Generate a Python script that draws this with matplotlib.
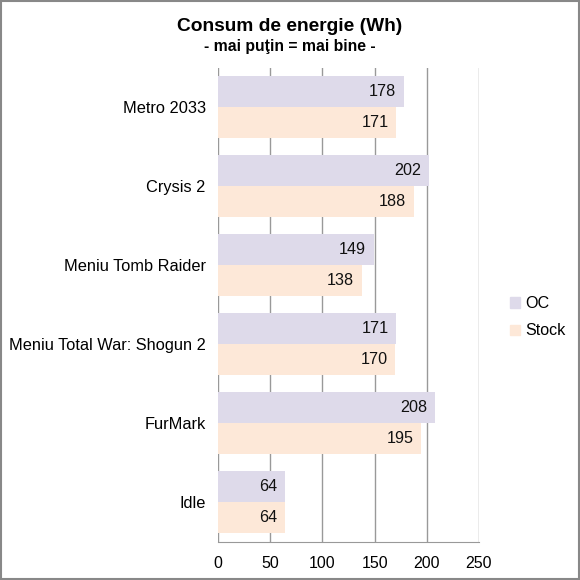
import matplotlib
matplotlib.use("Agg")
import matplotlib.pyplot as plt
import numpy as np
from matplotlib.patches import Rectangle

categories = ["Metro 2033", "Crysis 2", "Meniu Tomb Raider", "Meniu Total War: Shogun 2", "FurMark", "Idle"]
oc = [178, 202, 149, 171, 208, 64]
stock = [171, 188, 138, 170, 195, 64]
series_names = ["OC", "Stock"]
xticks = [0, 50, 100, 150, 200, 250]

plt.rcParams['font.family'] = ['Liberation Sans', 'DejaVu Sans']

fig = plt.figure(figsize=(5.8, 5.8), dpi=100)
ax = fig.add_axes([0.3764, 0.066, 0.449, 0.8173])

c_oc = "#dedaea"
c_st = "#fde8d8"
n = len(categories)
y = np.arange(n)[::-1].astype(float)
h = 0.394
ax.barh(y + h / 2, oc, height=h, color=c_oc, zorder=2, label=series_names[0])
ax.barh(y - h / 2, stock, height=h, color=c_st, zorder=2, label=series_names[1])

for yi, v in zip(y + h / 2, oc):
    ax.text(v - 7.5, yi, str(v), ha="right", va="center", fontsize=11.6, color="#111111", zorder=3)
for yi, v in zip(y - h / 2, stock):
    ax.text(v - 7.5, yi, str(v), ha="right", va="center", fontsize=11.6, color="#111111", zorder=3)

ax.set_xlim(0, 250)
ax.set_ylim(-0.5, n - 0.5)
ax.set_xticks(xticks)
ax.set_xticklabels([str(t) for t in xticks], fontsize=11.5)
ax.set_yticks(y)
ax.set_yticklabels(categories, fontsize=11.8)
ax.tick_params(axis="y", length=0, pad=9)
ax.tick_params(axis="x", length=0, pad=10)
ax.grid(axis="x", color="#999999", linewidth=1, zorder=0)
for s in ["top", "right", "left"]:
    ax.spines[s].set_visible(False)
ax.spines["bottom"].set_color("#999999")

leg = fig.legend(handles=[Rectangle((0, 0), 1, 1, color=c_oc), Rectangle((0, 0), 1, 1, color=c_st)],
                 labels=series_names, loc="center left", bbox_to_anchor=(0.855, 0.453),
                 frameon=False, fontsize=11.6, handlelength=0.6, handleheight=0.6,
                 handletextpad=0.35, labelspacing=0.75)

fig.text(0.5, 0.955, "Consum de energie (Wh)", ha="center", va="center", fontsize=13.8, fontweight="bold")
fig.text(0.5, 0.919, "- mai puţin = mai bine -", ha="center", va="center", fontsize=11.3, fontweight="bold")

fig.add_artist(Rectangle((0.001, 0.001), 0.998, 0.998, transform=fig.transFigure, fill=False,
                         edgecolor="#888888", linewidth=1.5))

fig.savefig("out.png", dpi=100)
